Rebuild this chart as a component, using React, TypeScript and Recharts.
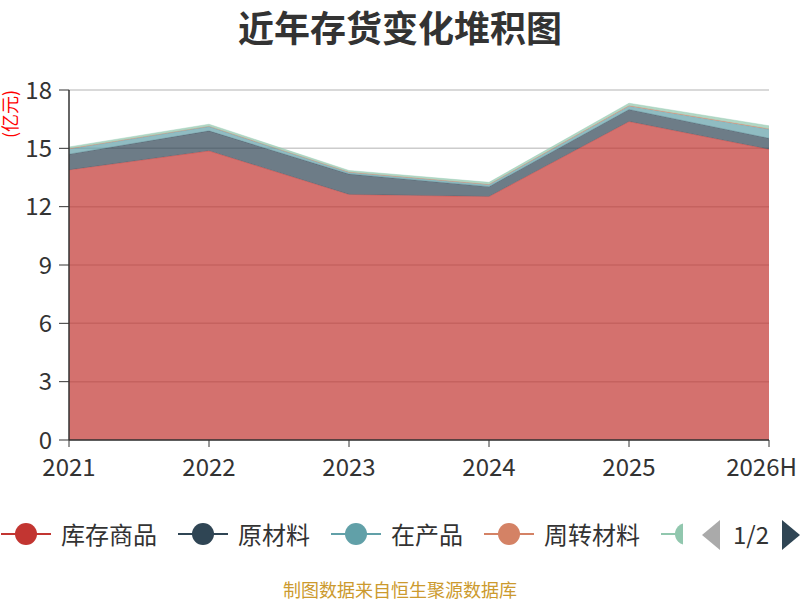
import React from "react";
import { Area, AreaChart, CartesianGrid, XAxis, YAxis } from "recharts";

const years = ["2021", "2022", "2023", "2024", "2025", "2026H"];
const kucun = [13.89, 14.87, 12.63, 12.52, 16.38, 14.95];
const yuancailiao = [0.81, 1.03, 1.05, 0.51, 0.62, 0.57];
const zaichanpin = [0.27, 0.22, 0.08, 0.1, 0.17, 0.46];
const zhouzhuan = [0.02, 0.02, 0.02, 0.02, 0.03, 0.03];
const weituo = [0.08, 0.1, 0.08, 0.1, 0.12, 0.15];
const yTicks = [0, 3, 6, 9, 12, 15, 18];

const series = [
    { key: "库存商品", values: kucun, color: "#c23531" },
    { key: "原材料", values: yuancailiao, color: "#2f4554" },
    { key: "在产品", values: zaichanpin, color: "#61a0a8" },
    { key: "周转材料", values: zhouzhuan, color: "#d48265" },
    { key: "委托加工物资", values: weituo, color: "#91c7ae" },
];

const data = years.map((year, i) => {
    const row: Record<string, string | number> = { year };
    series.forEach(s => { row[s.key] = s.values[i]; });
    return row;
});

const font = "'Noto Sans CJK SC', 'Noto Sans', sans-serif";

// keeps the last category label inside the picture, like the original does
function XTick(props: any) {
    const { x, y, payload, index } = props;
    const last = index === years.length - 1;
    return (
        <text
            x={last ? 797 : x}
            y={y}
            dy="0.8em"
            textAnchor={last ? "end" : "middle"}
            fill="#333"
            fontSize={24}
            fontFamily={font}
        >
            {payload.value}
        </text>
    );
}

function LegendIcon({ color }: { color: string }) {
    return (
        <svg width={50} height={24} style={{ flex: "none" }}>
            <line x1={0} y1={12} x2={50} y2={12} stroke={color} strokeWidth={2} />
            <circle cx={25} cy={12} r={11} fill={color} />
        </svg>
    );
}

export default function App() {
    return (
        <div style={{ position: "absolute", left: 0, top: 0, width: 800, height: 600, background: "#fff", fontFamily: font }}>
            <div style={{ position: "absolute", top: 2, left: 0, width: 800, textAlign: "center", fontSize: 36, fontWeight: "bold", color: "#333", lineHeight: "48px" }}>
                近年存货变化堆积图
            </div>
            <div style={{ position: "absolute", left: -18, top: 103, width: 54, height: 22, transform: "rotate(-90deg)", color: "#ff0000", fontSize: 18, lineHeight: "22px", textAlign: "center" }}>
                (亿元)
            </div>
            <AreaChart width={800} height={600} data={data} margin={{ top: 90, right: 31, bottom: 120, left: 0 }}>
                <CartesianGrid vertical={false} stroke="#cccccc" strokeWidth={1.5} />
                <XAxis
                    dataKey="year"
                    height={40}
                    stroke="#333"
                    tickSize={7}
                    tickMargin={10}
                    tick={<XTick />}
                    interval={0}
                    axisLine={{ stroke: "#333", strokeWidth: 1.5 }}
                    tickLine={{ stroke: "#333" }}
                />
                <YAxis
                    width={69}
                    domain={[0, 18]}
                    ticks={yTicks}
                    interval={0}
                    tickSize={10}
                    tickMargin={7}
                    tick={{ fill: "#333", fontSize: 24, fontFamily: font }}
                    axisLine={{ stroke: "#333", strokeWidth: 1.5 }}
                    tickLine={{ stroke: "#333" }}
                />
                {series.map(s => (
                    <Area
                        key={s.key}
                        type="linear"
                        dataKey={s.key}
                        stackId="a"
                        stroke={s.color}
                        strokeOpacity={0.4}
                        strokeWidth={1}
                        fill={s.color}
                        fillOpacity={0.7}
                        isAnimationActive={false}
                    />
                ))}
            </AreaChart>
            <div style={{ position: "absolute", left: 0, top: 519, width: 683, height: 30, overflow: "hidden" }}>
                <div style={{ position: "absolute", left: 1, top: 0, display: "flex", alignItems: "center", whiteSpace: "nowrap", height: 30 }}>
                    {series.map(s => (
                        <div key={s.key} style={{ display: "flex", alignItems: "center", marginRight: 21 }}>
                            <LegendIcon color={s.color} />
                            <span style={{ marginLeft: 10, fontSize: 24, color: "#333", lineHeight: "30px" }}>{s.key}</span>
                        </div>
                    ))}
                </div>
            </div>
            <svg style={{ position: "absolute", left: 700, top: 518 }} width={100} height={34}>
                <polygon points="20,2 20,32 2,17" fill="#aaaaaa" />
                <polygon points="82,2 82,32 100,17" fill="#2f4554" />
                <text x={51} y={26} textAnchor="middle" fontSize={24} fill="#333" fontFamily={font}>1/2</text>
            </svg>
            <div style={{ position: "absolute", left: 0, top: 577, width: 800, textAlign: "center", fontSize: 18, color: "#cc9a2e", lineHeight: "24px" }}>
                制图数据来自恒生聚源数据库
            </div>
        </div>
    );
}
